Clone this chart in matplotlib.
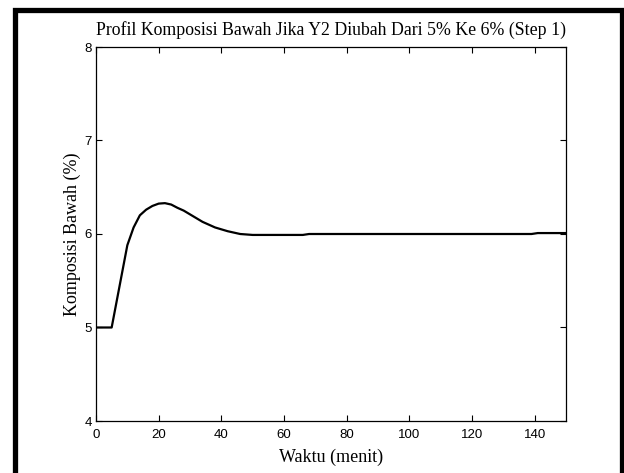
import matplotlib
matplotlib.use("Agg")
import matplotlib.pyplot as plt
from matplotlib.patches import Rectangle

# Data
waktu = [0, 5, 10, 12, 14, 16, 18, 20, 22, 24, 26, 28, 30, 32, 34, 36, 38, 40,
         42, 44, 46, 48, 50, 66, 68, 139, 141, 150]
komposisi = [5.0, 5.0, 5.88, 6.07, 6.20, 6.26, 6.30, 6.325, 6.33, 6.315, 6.28,
             6.25, 6.21, 6.17, 6.13, 6.10, 6.07, 6.05, 6.03, 6.015, 6.0, 5.995,
             5.99, 5.99, 6.0, 6.0, 6.01, 6.01]
xticks = [0, 20, 40, 60, 80, 100, 120, 140]
yticks = [4, 5, 6, 7, 8]

title = "Profil Komposisi Bawah Jika Y2 Diubah Dari 5% Ke 6% (Step 1)"
xlabel = "Waktu (menit)"
ylabel = "Komposisi Bawah (%)"

W, H = 624, 473
fig = plt.figure(figsize=(W / 100, H / 100), dpi=100)
ax = fig.add_axes([96 / W, 1 - 421 / H, (566 - 96) / W, (421 - 47) / H])

ax.plot(waktu, komposisi, color="black", lw=1.6)
ax.set_xlim(0, 150)
ax.set_ylim(4, 8)
ax.set_xticks(xticks)
ax.set_yticks(yticks)
ax.tick_params(direction="in", top=True, right=True, length=4, width=0.8,
               labelsize=9.5)
ax.tick_params(axis="x", pad=6)
ax.tick_params(axis="y", pad=3)
for lab in ax.get_xticklabels() + ax.get_yticklabels():
    lab.set_family("Liberation Sans")
for s in ax.spines.values():
    s.set_linewidth(0.9)

serif = "Liberation Serif"
ax.set_title(title, family=serif, fontsize=12.8, pad=9)
ax.set_xlabel(xlabel, family=serif, fontsize=13, labelpad=5)
ax.set_ylabel(ylabel, family=serif, fontsize=13, labelpad=2.5)

# thick outer frame (bottom edge off the image)
frame = Rectangle((15.5 / W, -20 / H), (621.5 - 15.5) / W, (H - 9.5 + 20) / H,
                  transform=fig.transFigure, fill=False, edgecolor="black",
                  lw=3.8, clip_on=False)
fig.patches.append(frame)

fig.savefig("out.png", dpi=100)
